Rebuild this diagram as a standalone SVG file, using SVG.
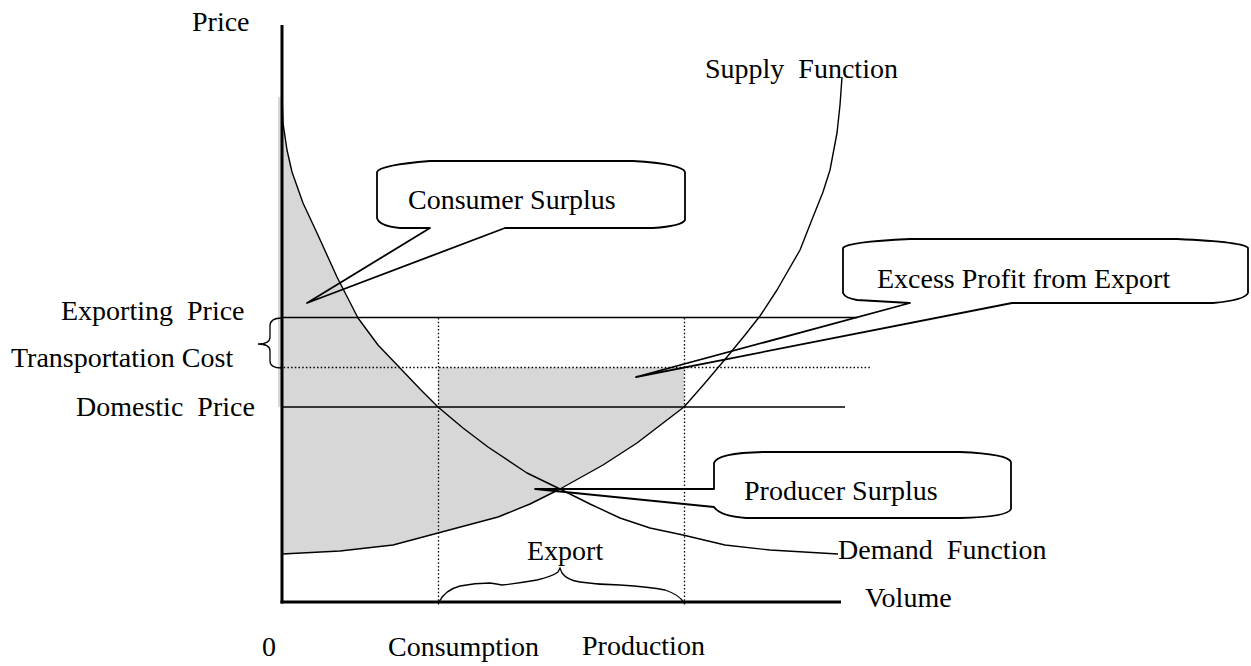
<svg xmlns="http://www.w3.org/2000/svg" width="1251" height="666" viewBox="0 0 1251 666">
<style>
text{font-family:"Liberation Serif","Times New Roman",serif;font-size:28px;fill:#000;white-space:pre}
.ln{stroke:#000;stroke-width:1.3;fill:none}
.dot{stroke:#000;stroke-width:1.3;stroke-dasharray:1.5 2.2;fill:none}
.ax{stroke:#000;stroke-width:3;fill:none}
.cv{stroke:#000;stroke-width:1.4;fill:none;stroke-linejoin:round}
.co{stroke:#000;stroke-width:1.8;fill:none;stroke-linejoin:round}
.shade{fill:#d7d7d7;stroke:none}
</style>
<rect width="1251" height="666" fill="#fff"/>
<g id="shading">
<polygon class="shade" points="278,97 282,97 283,123 287,150 292,172 303,203 317,233 337,277 358,318 378,345 400,368 420,389 438,407 438,367.5 684,367.5 684,407 667,420 637,443 603,465 560,489 530,504 498,517 438,533 393,545 340,551 282,554 282,407 278,407"/>
</g>
<g id="connectors">
<line class="ax" x1="282" y1="25" x2="282" y2="603.5"/>
<line class="ax" x1="280.5" y1="602" x2="841" y2="602"/>
<line class="ln" x1="282" y1="317.5" x2="857" y2="317.5"/>
<line class="dot" x1="280" y1="367.5" x2="870" y2="367.5"/>
<line class="ln" x1="282" y1="407" x2="845" y2="407"/>
<line class="dot" x1="438.5" y1="318" x2="438.5" y2="605"/>
<line class="dot" x1="684.5" y1="318" x2="684.5" y2="606"/>
<path class="ln" d="M282,318 Q270,318 270,326 L270,337 Q270,344 258,344 Q270,344 270,351 L270,361 Q270,368 282,368"/>
<path class="ln" d="M439,602 Q445,590 460,586 Q475,583 490,583 Q497,584 502,585 Q520,583 537,580 Q553,576 558,572 L560,568 L562,573 Q567,580 580,582 Q600,585 620,585 Q650,587 665,590 Q680,595 684,603"/>
<polyline id="demand" class="cv" points="282,97 283,123 287,150 292,172 303,203 317,233 337,277 358,318 378,345 400,368 420,389 438,407 463,428 488,447 527,473 560,489 590,504 620,518 650,528 683,535 725,545 770,550 838,554"/>
<polyline id="supply" class="cv" points="282,554 340,551 393,545 438,533 498,517 530,504 560,489 603,465 637,443 667,420 684,407 705,383 727,357 745,335 760,316 777,290 800,250 813,217 823,192 830,170 837,133 840,105 842,77"/>
</g>
<g id="consumer-surplus">
<path class="co" d="M377,218 L377,172 Q380,165 430,161 L633,161 Q682,164 685,172 L685,220 Q682,226 653,228 L505,228 L307,303 L430,228 L400,228 Q379,226 377,218 Z"/>
<text x="408" y="209">Consumer Surplus</text>
</g>
<g id="excess-profit">
<path class="co" d="M843,293 L843,248 Q846,242 910,239 L1177,239 Q1245,242 1248,248 L1248,293 Q1245,300 1213,303 L1012,303 L636,377 L910,303 L857,300 Q845,298 843,293 Z"/>
<text x="877" y="288">Excess Profit from Export</text>
</g>
<g id="producer-surplus">
<path class="co" d="M714,489 L714,463 Q717,453 763,452 L960,452 Q1008,454 1011,462 L1011,509 Q1008,517 960,518 L746,518 Q720,516 714,507 L535,489 Z"/>
<text x="744" y="500">Producer Surplus</text>
</g>
<g id="labels">
<text x="192" y="31">Price</text>
<text x="705" y="78">Supply  Function</text>
<text x="61" y="320">Exporting  Price</text>
<text x="11" y="367">Transportation Cost</text>
<text x="76" y="416">Domestic  Price</text>
<text x="838" y="559">Demand  Function</text>
<text x="527" y="560">Export</text>
<text x="865" y="607">Volume</text>
<text x="262" y="656">0</text>
<text x="388" y="656">Consumption</text>
<text x="582" y="655">Production</text>
</g>
</svg>
